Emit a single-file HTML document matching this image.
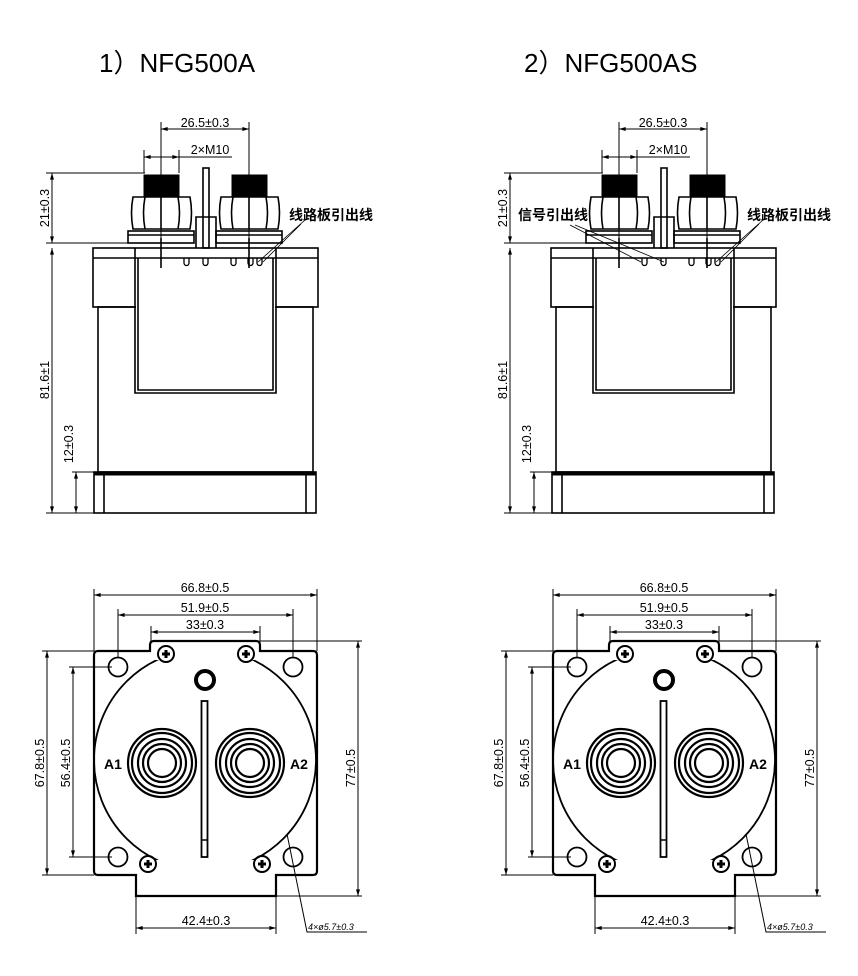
<!DOCTYPE html>
<html><head><meta charset="utf-8"><style>
html,body{margin:0;padding:0;background:#fff}
svg{display:block}
text{font-family:"Liberation Sans","Noto Sans CJK SC",sans-serif;fill:#000}
.t{font-size:12.5px}
.cn{font-size:14px;font-weight:bold;font-family:"Noto Sans CJK SC","WenQuanYi Zen Hei",sans-serif}
</style></head><body>
<svg width="858" height="976" viewBox="0 0 858 976" xmlns="http://www.w3.org/2000/svg">
<defs>
<marker id="a" viewBox="0 0 10 6" refX="10" refY="3" markerWidth="8" markerHeight="4" orient="auto-start-reverse"><path d="M0,0L10,3L0,6z" fill="#000"/></marker>
<clipPath id="cc"><rect x="0" y="660" width="858" height="200"/></clipPath>
<g id="side" fill="none" stroke="#000">
  <line x1="161" y1="129" x2="249" y2="129" stroke-width="1" marker-start="url(#a)" marker-end="url(#a)"/>
  <line x1="161" y1="122" x2="161" y2="238" stroke-width="1"/>
  <line x1="249" y1="122" x2="249" y2="238" stroke-width="1"/>
  <line x1="144" y1="157" x2="179" y2="157" stroke-width="1" marker-start="url(#a)" marker-end="url(#a)"/>
  <line x1="179" y1="157" x2="232" y2="157" stroke-width="1"/>
  <line x1="144" y1="150" x2="144" y2="173" stroke-width="1"/>
  <line x1="179" y1="150" x2="179" y2="173" stroke-width="1"/>
  <line x1="52" y1="173" x2="52" y2="243" stroke-width="1" marker-start="url(#a)" marker-end="url(#a)"/>
  <line x1="52" y1="248" x2="52" y2="513" stroke-width="1" marker-start="url(#a)" marker-end="url(#a)"/>
  <line x1="76" y1="472" x2="76" y2="513" stroke-width="1" marker-start="url(#a)" marker-end="url(#a)"/>
  <line x1="46" y1="173" x2="145" y2="173" stroke-width="1"/>
  <line x1="46" y1="243" x2="130" y2="243" stroke-width="1"/>
  <line x1="46" y1="513" x2="94" y2="513" stroke-width="1"/>
  <line x1="72" y1="472" x2="94" y2="472" stroke-width="1"/>
  <rect x="144" y="175" width="35" height="22" fill="#000" stroke-width="1"/>
  <rect x="232" y="175" width="35" height="22" fill="#000" stroke-width="1"/>
  <g stroke-width="1.6">
  <path d="M133,197 H190 Q193,213 190,229 H133 Q130,213 133,197Z"/>
  <path d="M145,197 Q142,213 145,229 M178,197 Q181,213 178,229 M161,197 V229"/>
  <path d="M221,197 H278 Q281,213 278,229 H221 Q218,213 221,197Z"/>
  <path d="M233,197 Q230,213 233,229 M266,197 Q269,213 266,229 M249,197 V229"/>
  <rect x="128" y="231" width="66" height="12"/>
  <rect x="216" y="231" width="66" height="12"/>
  <line x1="128" y1="235" x2="194" y2="235"/><line x1="216" y1="235" x2="282" y2="235"/>
  <rect x="203" y="168" width="6" height="80"/>
  <path d="M196,248 V217 H216 V248"/>
  <rect x="93" y="248" width="225" height="59"/>
  <line x1="93" y1="258" x2="318" y2="258"/>
  <rect x="98" y="307" width="215" height="165"/>
  <rect x="94" y="472" width="222" height="41"/>
  <line x1="94" y1="474" x2="316" y2="474" stroke-width="3"/>
  <line x1="104" y1="474" x2="104" y2="513"/><line x1="306" y1="474" x2="306" y2="513"/>
  <rect x="136" y="305" width="139" height="4" fill="#fff" stroke="none"/>
  <path d="M135,248 V393 H276 V248"/>
  <path d="M138,258 V390 H273 V258"/>
  <line x1="161" y1="238" x2="161" y2="268"/><line x1="249" y1="238" x2="249" y2="268"/>
  </g>
  <g stroke-width="1.3">
  <path d="M184,258 v5 a2.5,2.5 0 0 0 5,0 v-5 M203,258 v5 a2.5,2.5 0 0 0 5,0 v-5 M231,258 v5 a2.5,2.5 0 0 0 5,0 v-5 M248,258 v5 a2.5,2.5 0 0 0 5,0 v-5 M257,258 v5 a2.5,2.5 0 0 0 5,0 v-5"/>
  </g>
  <path d="M305,220 L258,262 M301,224 L263,262" stroke-width="0.8"/>
</g>
<g id="bot" fill="none" stroke="#000">
  <path d="M98,651 H150 V645 Q150,641 154,641 H256 Q260,641 260,645 V651 H313 Q317,651 317,655 V871 Q317,875 313,875 H276 V896 H136 V875 H98 Q94,875 94,871 V655 Q94,651 98,651Z" stroke-width="2.2"/>
  <circle cx="205" cy="760" r="111" stroke-width="1.8" clip-path="url(#cc)"/>
  <g stroke-width="1.8">
    <circle cx="118" cy="667" r="9.5"/><circle cx="293" cy="667" r="9.5"/>
    <circle cx="118" cy="857" r="9.5"/><circle cx="293" cy="857" r="9.5"/>
  </g>
  <g stroke-width="2">
    <circle cx="166" cy="654" r="8"/><circle cx="246" cy="654" r="8"/>
    <circle cx="148" cy="864" r="8"/><circle cx="262" cy="864" r="8"/>
  </g>
  <g stroke-width="3">
    <path d="M162,654h8M166,650v8M242,654h8M246,650v8M144,864h8M148,860v8M258,864h8M262,860v8"/>
  </g>
  <circle cx="205" cy="680" r="9" stroke-width="4"/>
  <rect x="201.5" y="701" width="6" height="156" stroke-width="1.8"/>
  <line x1="201.5" y1="840" x2="207.5" y2="840" stroke-width="1.5"/>
  <g stroke-width="2.2">
    <circle cx="162" cy="763" r="34"/><circle cx="162" cy="763" r="30"/><circle cx="162" cy="763" r="24"/><circle cx="162" cy="763" r="19"/><circle cx="162" cy="763" r="14"/>
    <circle cx="250" cy="763" r="34"/><circle cx="250" cy="763" r="30"/><circle cx="250" cy="763" r="24"/><circle cx="250" cy="763" r="19"/><circle cx="250" cy="763" r="14"/>
  </g>
  <g stroke-width="1">
    <line x1="94" y1="595" x2="317" y2="595" marker-start="url(#a)" marker-end="url(#a)"/>
    <line x1="118" y1="615" x2="293" y2="615" marker-start="url(#a)" marker-end="url(#a)"/>
    <line x1="151" y1="632" x2="260" y2="632" marker-start="url(#a)" marker-end="url(#a)"/>
    <line x1="94" y1="589" x2="94" y2="651"/><line x1="317" y1="589" x2="317" y2="651"/>
    <line x1="118" y1="609" x2="118" y2="658"/><line x1="293" y1="609" x2="293" y2="658"/>
    <line x1="151" y1="626" x2="151" y2="641"/><line x1="260" y1="626" x2="260" y2="641"/>
    <line x1="47" y1="651" x2="47" y2="875" marker-start="url(#a)" marker-end="url(#a)"/>
    <line x1="42" y1="651" x2="94" y2="651"/><line x1="42" y1="875" x2="94" y2="875"/>
    <line x1="73" y1="667" x2="73" y2="857" marker-start="url(#a)" marker-end="url(#a)"/>
    <line x1="69" y1="667" x2="112" y2="667"/><line x1="69" y1="857" x2="112" y2="857"/>
    <line x1="358" y1="641" x2="358" y2="896" marker-start="url(#a)" marker-end="url(#a)"/>
    <line x1="260" y1="641" x2="362" y2="641"/><line x1="276" y1="896" x2="362" y2="896"/>
    <line x1="136" y1="928" x2="276" y2="928" marker-start="url(#a)" marker-end="url(#a)"/>
    <line x1="136" y1="896" x2="136" y2="934"/><line x1="276" y1="896" x2="276" y2="934"/>
    <path d="M287,834 L307,932 H367"/>
  </g>
</g>
</defs>
<text x="99" y="72" font-size="26">1）NFG500A</text>
<text x="524" y="72" font-size="26">2）NFG500AS</text>

<use href="#side"/>
<use href="#side" x="458"/>
<use href="#bot"/>
<use href="#bot" x="459"/>

<text class="t" x="205" y="127" text-anchor="middle">26.5±0.3</text>
<text class="t" x="210" y="154" text-anchor="middle">2×M10</text>
<text class="t" transform="translate(49,208) rotate(-90)" text-anchor="middle">21±0.3</text>
<text class="t" transform="translate(49,380) rotate(-90)" text-anchor="middle">81.6±1</text>
<text class="t" transform="translate(73,444) rotate(-90)" text-anchor="middle">12±0.3</text>
<text class="cn" x="289" y="220">线路板引出线</text>
<text class="t" x="205" y="592" text-anchor="middle">66.8±0.5</text>
<text class="t" x="205" y="612" text-anchor="middle">51.9±0.5</text>
<text class="t" x="205" y="629" text-anchor="middle">33±0.3</text>
<text class="t" transform="translate(44,763) rotate(-90)" text-anchor="middle">67.8±0.5</text>
<text class="t" transform="translate(70,763) rotate(-90)" text-anchor="middle">56.4±0.5</text>
<text class="t" transform="translate(355,768) rotate(-90)" text-anchor="middle">77±0.5</text>
<text class="t" x="206" y="925" text-anchor="middle">42.4±0.3</text>
<text x="308" y="930" font-size="9" font-style="italic">4×ø5.7±0.3</text>
<text x="104" y="769" font-size="14" font-weight="bold" font-family="Liberation Serif">A1</text>
<text x="290" y="769" font-size="14" font-weight="bold" font-family="Liberation Serif">A2</text>

<text class="t" x="663" y="127" text-anchor="middle">26.5±0.3</text>
<text class="t" x="668" y="154" text-anchor="middle">2×M10</text>
<text class="t" transform="translate(507,208) rotate(-90)" text-anchor="middle">21±0.3</text>
<text class="t" transform="translate(507,380) rotate(-90)" text-anchor="middle">81.6±1</text>
<text class="t" transform="translate(531,444) rotate(-90)" text-anchor="middle">12±0.3</text>
<text class="cn" x="747" y="220">线路板引出线</text>
<text class="cn" x="518" y="220">信号引出线</text>
<path d="M570,225 L641,262 M575,225 L664,262" stroke="#000" stroke-width="0.8" fill="none"/>
<text class="t" x="664" y="592" text-anchor="middle">66.8±0.5</text>
<text class="t" x="664" y="612" text-anchor="middle">51.9±0.5</text>
<text class="t" x="664" y="629" text-anchor="middle">33±0.3</text>
<text class="t" transform="translate(503,763) rotate(-90)" text-anchor="middle">67.8±0.5</text>
<text class="t" transform="translate(529,763) rotate(-90)" text-anchor="middle">56.4±0.5</text>
<text class="t" transform="translate(814,768) rotate(-90)" text-anchor="middle">77±0.5</text>
<text class="t" x="665" y="925" text-anchor="middle">42.4±0.3</text>
<text x="767" y="930" font-size="9" font-style="italic">4×ø5.7±0.3</text>
<text x="563" y="769" font-size="14" font-weight="bold" font-family="Liberation Serif">A1</text>
<text x="749" y="769" font-size="14" font-weight="bold" font-family="Liberation Serif">A2</text>
</svg>
</body></html>
